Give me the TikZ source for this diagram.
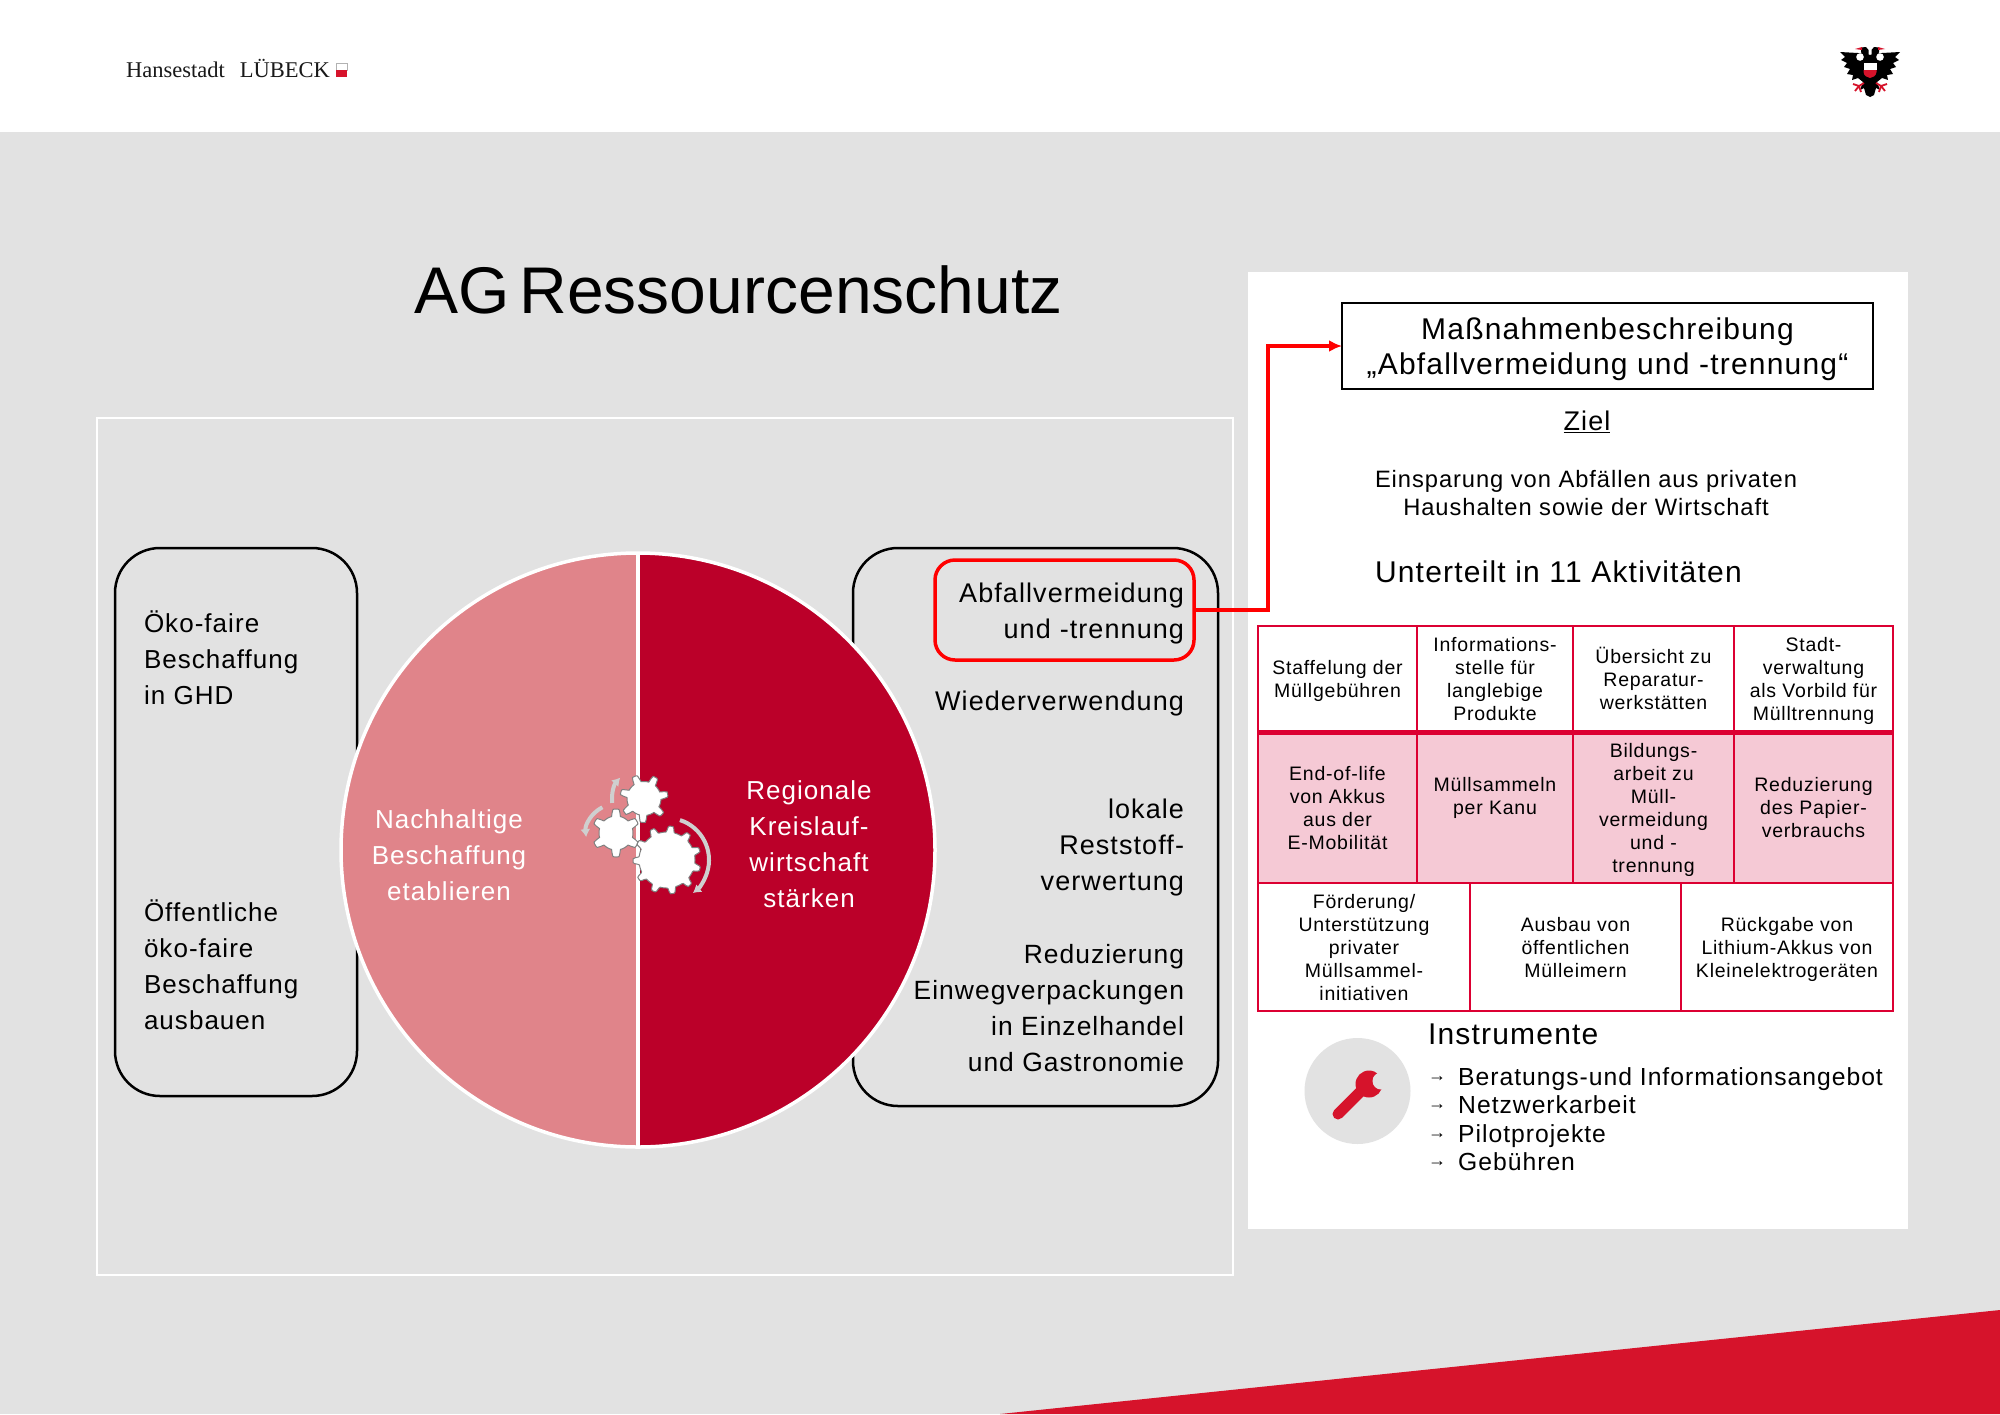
\documentclass[tikz,border=0pt]{standalone}
\usepackage{fontspec}
\setmainfont{Liberation Sans}
\newfontfamily\lsf[LetterSpace=4]{Liberation Sans}
\newfontfamily\plainf{Liberation Sans}
\newfontfamily\titlef[WordSpace=0.55]{Liberation Sans}
\newfontfamily\serf{Liberation Serif}
\usetikzlibrary{arrows.meta}
\definecolor{bggray}{HTML}{E2E2E2}
\definecolor{hlred}{HTML}{FF0000}
\definecolor{tabred}{HTML}{DC0032}
\definecolor{pinkc}{HTML}{F5C9D5}
\definecolor{darkred}{HTML}{BB0029}
\definecolor{lightred}{HTML}{E0848A}
\definecolor{wedgered}{HTML}{D6132B}
\definecolor{geargray}{HTML}{CFCFCF}
\tikzset{
 lab/.style={font=\lsf\fontsize{26}{36}\selectfont,inner sep=0pt,outer sep=0pt},
 rlab/.style={font=\lsf\fontsize{27}{36}\selectfont,inner sep=0pt,outer sep=0pt,align=right,anchor=east},
 llab/.style={lab,align=left,anchor=west},
 wlab/.style={lab,align=center,text=white},
 panelt/.style={font=\lsf\fontsize{30}{35}\selectfont,inner sep=0pt,outer sep=0pt},
 cell/.style={draw=tabred,line width=2.7pt,inner sep=0pt,outer sep=0pt,align=center,font=\lsf\fontsize{19.5}{23}\selectfont},
 roundbox/.style={draw=black,line width=2.5pt,rounded corners=45pt,inner sep=0pt,outer sep=0pt},
 listt/.style={font=\lsf\fontsize{24.7}{28}\selectfont,inner sep=0pt,anchor=base west},
 listarr/.style={font=\plainf\bfseries\fontsize{18}{28}\selectfont,inner sep=0pt,anchor=base west},
 geararrow/.style={draw=geargray,line width=4pt,-{Latex[length=8pt,width=10pt]}},
 gearbody/.style={fill=white,draw=gray,line width=1pt,line join=round},
}
\newcommand{\tabcell}[7][white]{%
 \node[cell,fill=#1,minimum width={#4-#3},minimum height={#6-#5}] (#2) at ({(#3+#4)/2},{(#5+#6)/2}) {\rule{0pt}{20pt}#7\rule[-6pt]{0pt}{6pt}};}
\newcommand{\mygear}[6]{%
 \draw[gearbody,shift={(#1,#2)}] plot[variable=\t,samples={#5*16+1},domain=0:360]
  ({(#3+(#4-#3)*max(0,min(1,-0.1+1.5*cos(#5*(\t-#6)))))*cos(\t)},{(#3+(#4-#3)*max(0,min(1,-0.1+1.5*cos(#5*(\t-#6)))))*sin(\t)}) -- cycle;}
\begin{document}
\begin{tikzpicture}[x=1pt,y=-1pt]
\useasboundingbox (0,0) rectangle (2000,1414);
% backgrounds
\fill[bggray] (0,0) rectangle (2000,1414);
\fill[white] (0,0) rectangle (2000,132);
\fill[wedgered] (1000,1414) -- (2000,1310) -- (2000,1414) -- cycle;
% logo
\node[font=\serf\fontsize{22.5}{26}\selectfont,anchor=base west,inner sep=0pt,text=black!90] (logo) at (126,77) {Hansestadt\hspace{15pt}LÜBECK};
\draw[gray!60,line width=0.7pt,fill=white] (336,63) rectangle (347,70);
\fill[wedgered] (336,70) rectangle (347,77);
% eagle
\begin{scope}[shift={(1870,0)}]
 \foreach \s in {1,-1}{
 \begin{scope}[xscale=\s]
  \fill[black] (3,54) -- (12,53) -- (30,52) -- (25,57) -- (29,60) -- (23,63) -- (26,67) -- (20,69) -- (23,74) -- (17,75) -- (18,80) -- (12,78) -- (7,82) -- (10,90) -- (6,88) -- (4,95) -- (0,97) -- (0,55) -- cycle;
  \fill[black] (1.5,58) -- (1.5,50) -- (4,47) -- (9,47.5) -- (9,52) -- (6,58) -- cycle;
  \fill[wedgered] (8,47) -- (15,49) -- (8,50) -- cycle;
  \fill[white] (10,57) circle (3.8);
  \draw[wedgered,line width=1.8pt] (6,83) -- (11,86) -- (17,84) (11,86) -- (15,91) (11,86) -- (9,92);
 \end{scope}}
 \fill[white] (-6.5,62.5) rectangle (6.5,70);
 \fill[wedgered] (-6.5,70) -- (6.5,70) -- (6.5,72) .. controls (6,76) and (3,77.5) .. (0,78) .. controls (-3,77.5) and (-6,76) .. (-6.5,72) -- cycle;
\end{scope}
% title
\node[font=\titlef\fontsize{66}{70}\selectfont,anchor=base west,inner sep=0pt] (title) at (414,313) {AG Ressourcenschutz};
% main frame
\node[draw=white,line width=2.5pt,minimum width=1136,minimum height=857,inner sep=0pt,outer sep=0pt] (frame) at (665,846.5) {};
\node[roundbox,minimum width=242,minimum height=548] (leftbox) at (236,822) {};
\node[roundbox,minimum width=365,minimum height=558] (rightbox) at (1035.5,827) {};
% circle
\fill[lightred] (638,553) arc[start angle=-90,end angle=-270,radius=297] -- cycle;
\fill[darkred] (638,553) arc[start angle=-90,end angle=90,radius=297] -- cycle;
\draw[white,line width=3.5pt] (638,850) circle (297);
\draw[white,line width=4pt] (638,553) -- (638,1147);
% gears
\mygear{644}{798.5}{17}{24}{7}{-10}
\mygear{616}{833}{17}{24}{6}{30}
\mygear{667}{860}{28}{34}{11}{15}
\draw[geararrow] ([shift={(-72:42)}]667,860) arc[start angle=-72,end angle=52,radius=42];
\draw[geararrow] ([shift={(173:32)}]644,799) arc[start angle=173,end angle=222,radius=32];
\draw[geararrow] ([shift={(243:30)}]616,834) arc[start angle=243,end angle=174,radius=30];
% circle labels
\node[wlab] (nb) at (449,855) {Nachhaltige\\Beschaffung\\etablieren};
\node[wlab] (rk) at (809,844) {Regionale\\Kreislauf-\\wirtschaft\\stärken};
% left labels
\node[llab] (oko1) at (144,658) {Öko-faire\\Beschaffung\\in GHD};
\node[llab] (oko2) at (144,965) {Öffentliche\\öko-faire\\Beschaffung\\ausbauen};
% right labels
\node[rlab,anchor=center,draw=hlred,line width=3.5pt,rounded corners=20pt,minimum width=259,minimum height=100,text width=239,inner xsep=10pt] (abf) at (1064.5,610) {\rule{0pt}{27pt}Abfallvermeidung\\und -trennung};
\node[rlab] (wv) at (1184,704) {Wiederverwendung};
\node[rlab] (lr) at (1184,848) {lokale\\Reststoff-\\verwertung};
\node[rlab,font=\lsf\fontsize{26.4}{36}\selectfont] (re) at (1184,1008) {Reduzierung\\Einwegverpackungen\hspace{2.5pt}\\in Einzelhandel\\und Gastronomie};
% panel
\node[fill=white,minimum width=660,minimum height=957,inner sep=0pt,outer sep=0pt] (panel) at (1578,750.5) {};
\node[panelt,draw=black,line width=2.5pt,minimum width=531,minimum height=86,align=center] (mb) at (1607.5,346) {\rule{0pt}{29pt}Maßnahmenbeschreibung\\„Abfallvermeidung und -trennung“};
\coordinate (bend) at (1268,480);
\draw[hlred,line width=3.5pt,-{Latex[length=13pt,width=12pt]}] (abf.east) -| (bend) |- (mb.west);
\node[font=\lsf\fontsize{27}{35}\selectfont,inner sep=0pt] (ziel) at (1587,422) {\underline{Ziel}};
\node[font=\lsf\fontsize{23.7}{28}\selectfont,align=center,inner sep=0pt] (eins) at (1586,493) {Einsparung von Abfällen aus privaten\\Haushalten sowie der Wirtschaft};
\node[panelt,anchor=west] (unt) at (1375,572) {Unterteilt in 11 Aktivitäten};
% table
\tabcell{a1}{1258}{1417}{626}{732}{Staffelung der\\Müllgebühren}
\tabcell{a2}{1417}{1573}{626}{732}{Informations-\\stelle für\\langlebige\\Produkte}
\tabcell{a3}{1573}{1734}{626}{732}{Übersicht zu\\Reparatur-\\werkstätten}
\tabcell{a4}{1734}{1893}{626}{732}{Stadt-\\verwaltung\\als Vorbild für\\Mülltrennung}
\tabcell[pinkc]{b1}{1258}{1417}{732}{883}{End-of-life\\von Akkus\\aus der\\E-Mobilität}
\tabcell[pinkc]{b2}{1417}{1573}{732}{883}{Müllsammeln\\per Kanu\\}
\tabcell[pinkc]{b3}{1573}{1734}{732}{883}{Bildungs-\\arbeit zu\\Müll-\\vermeidung\\und -\\trennung}
\tabcell[pinkc]{b4}{1734}{1893}{732}{883}{Reduzierung\\des Papier-\\verbrauchs}
\tabcell{c1}{1258}{1470}{883}{1011}{Förderung/\\Unterstützung\\privater\\Müllsammel-\\initiativen}
\tabcell{c2}{1470}{1681}{883}{1011}{Ausbau von\\öffentlichen\\Mülleimern}
\tabcell{c3}{1681}{1893}{883}{1011}{Rückgabe von\\Lithium-Akkus von\\Kleinelektrogeräten}
\draw[tabred,line width=5pt] (a1.south west) -- (a4.south east);
% instruments
\fill[bggray] (1357.5,1091) circle (53);
\fill[wedgered] (1369,1084) circle (13.5);
\draw[wedgered,line width=11pt,line cap=round] (1338,1114) -- (1364,1088);
\fill[bggray] (1381,1081) circle (8.5);
\node[panelt,anchor=west] (ins) at (1428,1034) {Instrumente};
\foreach \yy/\aa/\tt/\nn in {1085/1081/Beratungs-und Informationsangebot/i1,1113/1109/Netzwerkarbeit/i2,1142/1138/Pilotprojekte/i3,1170/1166/Gebühren/i4}{
 \node[listarr] (\nn a) at (1428,\aa) {→};
 \node[listt] (\nn) at (1458,\yy) {\tt};
}
\end{tikzpicture}
\end{document}
